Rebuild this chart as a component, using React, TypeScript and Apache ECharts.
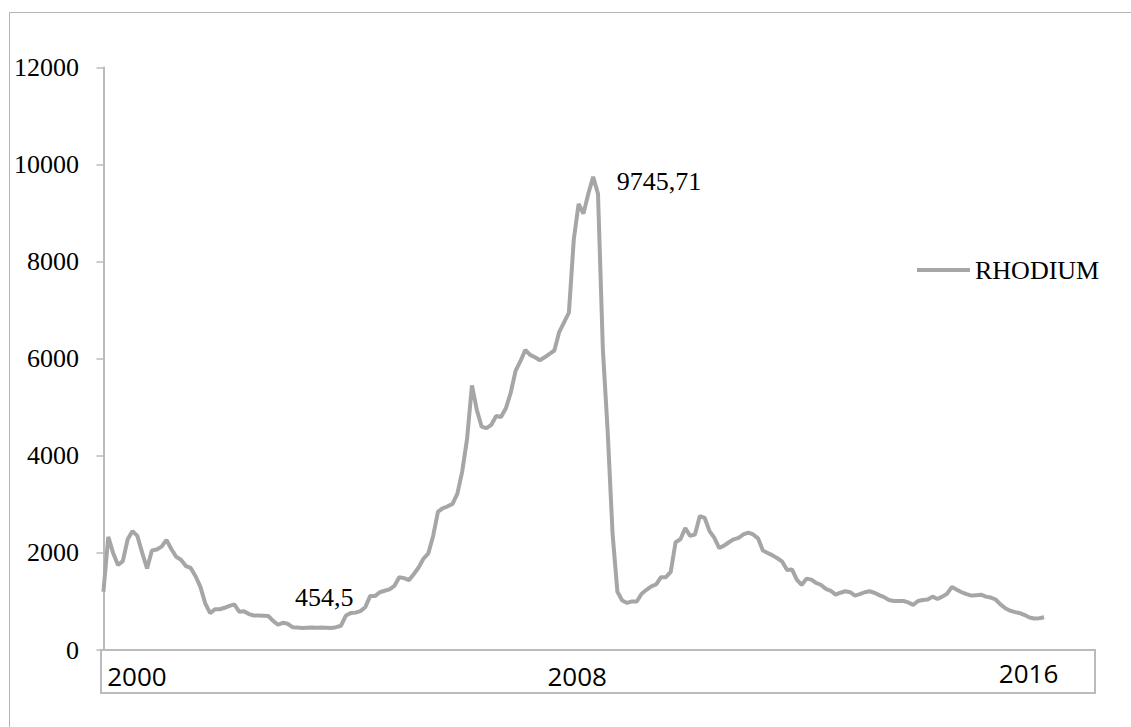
import React, { useEffect, useRef } from "react";
import * as echarts from "echarts";

// Monthly rhodium price, Jan 2000 onward (index = month since Jan 2000)
const rhodium: number[] = [
  1200, 2330, 2000, 1750, 1830, 2280, 2450, 2350, 2000, 1680,
  2050, 2070, 2130, 2270, 2080, 1920, 1860, 1730, 1690, 1520,
  1300, 960, 760, 840, 840, 870, 910, 940, 790, 800,
  740, 710, 710, 705, 700, 600, 520, 560, 540, 470,
  465, 455, 460, 465, 460, 465, 460, 454.5, 470, 500,
  710, 760, 770, 800, 880, 1110, 1110, 1190, 1220, 1250,
  1320, 1500, 1480, 1440, 1560, 1700, 1880, 1990, 2350, 2850,
  2920, 2960, 3010, 3220, 3680, 4350, 5450, 4950, 4600, 4570,
  4640, 4820, 4800, 4980, 5300, 5750, 5950, 6180, 6080, 6030,
  5970, 6030, 6100, 6170, 6550, 6750, 6950, 8450, 9190, 8990,
  9400, 9745.71, 9400, 6200, 4500, 2400, 1200, 1020, 970, 1000,
  1000, 1160, 1240, 1310, 1350, 1500, 1500, 1610, 2220, 2280,
  2510, 2350, 2380, 2760, 2720, 2450, 2310, 2100, 2150, 2220,
  2280, 2310, 2380, 2420, 2380, 2300, 2050, 2000, 1950, 1890,
  1820, 1650, 1660, 1450, 1340, 1470, 1450, 1380, 1340, 1260,
  1220, 1140, 1180, 1210, 1190, 1120, 1150, 1190, 1210, 1180,
  1130, 1090, 1030, 1010, 1010, 1010, 980, 930, 1010, 1030,
  1040, 1100, 1050, 1100, 1160, 1300, 1240, 1190, 1150, 1120,
  1130, 1140, 1100, 1080, 1040, 940, 860, 810, 780, 760,
  720, 670, 650, 655, 675,
];

const seriesName = "RHODIUM";
const xLabels = ["2000", "2008", "2016"];
const xLabelAt = [6.9, 97.7, 190.8];
const yMin = 0;
const yMax = 12000;
const yStep = 2000;
const xSlots = 205;

const fmtNum = (v: number) => String(v).replace(".", ",");

export default function App() {
  const ref = useRef<HTMLDivElement>(null);

  useEffect(() => {
    if (!ref.current) return;
    const chart = echarts.init(ref.current, null, { renderer: "svg" });
    const peak = Math.max(...rhodium);
    const low = Math.min(...rhodium);
    const peakIdx = rhodium.indexOf(peak);
    const lowIdx = rhodium.indexOf(low);
    const serif = "'Liberation Serif', 'Times New Roman', serif";
    const sans = "'Open Sans', 'Liberation Sans', sans-serif";
    const axisGray = "#BBBBBB";
    const lineGray = "#A6A6A6";
    const serifText = { fontFamily: serif, fontSize: 26, color: "#000" };

    chart.setOption({
      animation: false,
      backgroundColor: "#ffffff",
      color: [lineGray],
      grid: {
        left: 101,
        right: 36,
        top: 67.5,
        bottom: 77,
        containLabel: false,
        outerBoundsMode: "none",
      },
      legend: {
        data: [seriesName],
        left: 912,
        top: 252,
        icon: "rect",
        itemWidth: 53,
        itemHeight: 4,
        itemGap: 0,
        itemStyle: { color: lineGray },
        textStyle: { ...serifText },
      },
      xAxis: {
        type: "value",
        min: -0.5,
        max: xSlots - 0.5,
        axisLine: { show: true, lineStyle: { color: axisGray, width: 2 } },
        axisTick: { show: false },
        splitLine: { show: false },
        axisLabel: {
          show: true,
          customValues: xLabelAt,
          margin: 10,
          fontFamily: sans,
          fontSize: 26,
          color: "#000",
          formatter: (val: number) => {
            let k = 0;
            let best = Infinity;
            xLabelAt.forEach((p, j) => {
              if (Math.abs(p - val) < best) {
                best = Math.abs(p - val);
                k = j;
              }
            });
            return k === xLabels.length - 1 ? `{b|${xLabels[k]}}` : `{a|${xLabels[k]}}`;
          },
          rich: {
            a: { fontFamily: sans, fontSize: 26, lineHeight: 26, color: "#000", padding: [6, 0, 0, 0] },
            b: { fontFamily: sans, fontSize: 26, lineHeight: 26, color: "#000" },
          },
        },
      },
      yAxis: {
        type: "value",
        min: yMin,
        max: yMax,
        interval: yStep,
        axisLine: { show: true, lineStyle: { color: axisGray, width: 2 } },
        axisTick: { show: true, length: 7, lineStyle: { color: axisGray, width: 1.5 } },
        splitLine: { show: false },
        axisLabel: {
          margin: 22,
          ...serifText,
          formatter: (v: number) => String(v),
        },
      },
      series: [
        {
          name: seriesName,
          type: "line",
          data: rhodium.map((v, i) => [i, v]),
          symbol: "none",
          lineStyle: { color: lineGray, width: 4 },
          itemStyle: { color: lineGray },
          markPoint: {
            symbol: "circle",
            symbolSize: 1,
            itemStyle: { color: "rgba(0,0,0,0)" },
            label: {
              show: true,
              ...serifText,
              formatter: (p: any) => fmtNum(p.value),
            },
            data: [
              {
                coord: [peakIdx, peak],
                value: peak,
                label: { ...serifText, position: "right", distance: 23, offset: [0, 5] },
              },
              {
                coord: [lowIdx, low],
                value: low,
                label: { ...serifText, position: "top", distance: 17, offset: [-7, 0] },
              },
            ],
          },
        },
      ],
      graphic: [
        {
          type: "rect",
          silent: true,
          z: -10,
          shape: { x: 9.5, y: 12.5, width: 1300, height: 900 },
          style: { fill: "none", stroke: "#B3B3B3", lineWidth: 1 },
        },
        {
          type: "rect",
          silent: true,
          shape: { x: 101, y: 650, width: 994, height: 43 },
          style: { fill: "none", stroke: axisGray, lineWidth: 2 },
        },
      ],
    });

    return () => {
      chart.dispose();
    };
  }, []);

  return (
    <div
      ref={ref}
      style={{ position: "fixed", left: 0, top: 0, width: 1131, height: 727, background: "#fff" }}
    />
  );
}
